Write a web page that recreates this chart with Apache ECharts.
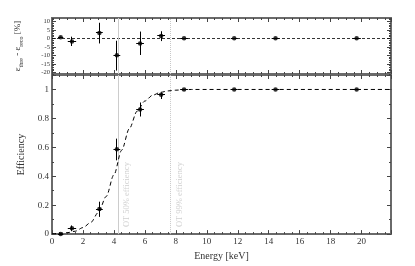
<!DOCTYPE html>
<html><head><meta charset="utf-8">
<script src="https://cdn.jsdelivr.net/npm/echarts@6/dist/echarts.min.js"></script>
<style>html,body{margin:0;padding:0;background:#fff}#c{width:415px;height:266px}</style>
</head><body><div id="c"></div>
<script>
// ---- data ----
const energy    = [0.56, 1.29, 3.06, 4.19, 5.69, 7.05, 8.53, 11.77, 14.44, 19.68];
const energyErr = [0.17, 0.27, 0.22, 0.22, 0.25, 0.25, 0.25, 0.22, 0.25, 0.27];
const eff       = [0.0, 0.04, 0.173, 0.587, 0.862, 0.963, 1.0, 1.0, 1.0, 1.0];
const effLo     = [0.0, 0.02, 0.119, 0.51, 0.813, 0.934, 1.0, 1.0, 1.0, 1.0];
const effHi     = [0.0, 0.06, 0.224, 0.66, 0.91, 0.978, 1.0, 1.0, 1.0, 1.0];
const resid     = [0.6, -1.8, 3.2, -10, -3, 1.4, 0, 0, 0, 0];
const residLo   = [0.2, -4.5, -3.0, -19, -9.8, -1.6, 0, 0, 0, 0];
const residHi   = [1.0, 1.0, 9.2, -1.4, 4.0, 4.2, 0, 0, 0, 0];
const fitX      = [0, 0.5, 1, 1.5, 2, 2.5, 3, 3.5, 4, 4.5, 5, 5.5, 6, 6.5, 7, 7.5, 8, 8.5, 9, 22];
const fitY      = [0.003, 0.005, 0.01, 0.02, 0.045, 0.08, 0.15, 0.26, 0.41, 0.58, 0.73, 0.85, 0.92, 0.96, 0.98, 0.99, 0.995, 0.998, 1.0, 1.0];
const otValues  = [4.28, 7.65];
const otLabels  = ['OT 50% efficiency', 'OT 99% efficiency'];
const otLabelY  = 0.0;
const yTopLabels  = [-20, -15, -10, -5, 0, 5, 10];
const yTopMinor   = [-21,-19,-18,-17,-16,-14,-13,-12,-11,-9,-8,-7,-6,-4,-3,-2,-1,1,2,3,4,6,7,8,9,11,12];

const FONT = '"Liberation Serif","Times New Roman",serif';
const AX = '#6a6a6a';
const xMax = 21.9;

const chart = echarts.init(document.getElementById('c'), null, {renderer: 'canvas'});

function xAx(grid, pos, showLabels, extra) {
  return Object.assign({
    type: 'value', gridIndex: grid, position: pos, min: 0, max: xMax, interval: 2,
    axisLine: {show: true, onZero: false, lineStyle: {color: AX, width: 2}},
    axisTick: {show: true, inside: true, length: 4, lineStyle: {color: '#444', width: 1}},
    minorTick: {show: true, splitNumber: 4, length: 2, lineStyle: {color: '#444', width: 1}},
    splitLine: {show: false}, minorSplitLine: {show: false},
    axisLabel: {show: showLabels, showMaxLabel: false, margin: 3, fontFamily: FONT, fontSize: 9, color: '#333'}
  }, extra || {});
}
function yTop(pos, values, len, showLabels, extra) {
  return Object.assign({
    type: 'value', gridIndex: 0, position: pos, min: -21, max: 12,
    axisLine: {show: true, onZero: false, lineStyle: {color: AX, width: 2}},
    axisTick: {show: true, inside: true, length: len, customValues: values, lineStyle: {color: '#444', width: 1}},
    splitLine: {show: false},
    axisLabel: {show: showLabels, customValues: yTopLabels, margin: 2, fontFamily: FONT, fontSize: 6.5, color: '#333'}
  }, extra || {});
}
function yBot(pos, showLabels, extra) {
  return Object.assign({
    type: 'value', gridIndex: 1, position: pos, min: 0, max: 1.1, interval: 0.2,
    axisLine: {show: true, onZero: false, lineStyle: {color: AX, width: 2}},
    axisTick: {show: true, inside: true, length: 4, lineStyle: {color: '#444', width: 1}},
    minorTick: {show: true, splitNumber: 2, length: 2, lineStyle: {color: '#444', width: 1}},
    splitLine: {show: false}, minorSplitLine: {show: false},
    axisLabel: {show: showLabels, showMaxLabel: false, margin: 3, fontFamily: FONT, fontSize: 9, color: '#333'}
  }, extra || {});
}

function crisp(v) { return Math.round(v - 0.5) + 0.5; }
function errRender(params, api) {
  const x = api.value(0), y = api.value(1), xe = api.value(2), lo = api.value(3), hi = api.value(4);
  const pl = api.coord([x - xe, y]), pr = api.coord([x + xe, y]);
  const pt = api.coord([x, hi]), pb = api.coord([x, lo]);
  const st = {stroke: '#000', lineWidth: 1};
  const cx = crisp(pt[0]), cy = crisp(pl[1]);
  return {type: 'group', children: [
    {type: 'line', shape: {x1: pl[0], y1: cy, x2: pr[0], y2: cy}, style: st},
    {type: 'line', shape: {x1: cx, y1: pt[1], x2: cx, y2: pb[1]}, style: st}
  ]};
}

const topErr = energy.map((e, i) => [e, resid[i], energyErr[i], residLo[i], residHi[i]]);
const botErr = energy.map((e, i) => [e, eff[i], energyErr[i], effLo[i], effHi[i]]);
const fitData = fitX.map((x, i) => [x, fitY[i]]);

const otLineStyles = [{type: 'solid', color: '#cccccc', width: 1}, {type: 'dotted', color: '#c8c8c8', width: 1}];

const option = {
  animation: false,
  backgroundColor: '#fff',
  grid: [
    {left: 52, right: 24, top: 18, height: 56},
    {left: 52, right: 24, top: 75, height: 167}
  ],
  xAxis: [
    xAx(0, 'bottom', false),
    xAx(0, 'top', false),
    xAx(1, 'bottom', true, {name: 'Energy [keV]', nameLocation: 'middle', nameGap: 11,
      nameTextStyle: {fontFamily: FONT, fontSize: 10, color: '#333', verticalAlign: 'top'}}),
    xAx(1, 'top', false)
  ],
  yAxis: [
    yTop('left', yTopLabels, 4, true, {
      name: '{e|ε}{s|thre}{n| - }{e|ε}{s|reco}{n| [%]}', nameLocation: 'middle', nameGap: 28, nameRotate: 90,
      nameTextStyle: {fontFamily: FONT, fontSize: 9, color: '#333',
        rich: {
          e: {fontFamily: FONT, fontSize: 9, color: '#333', lineHeight: 12, verticalAlign: 'middle'},
          n: {fontFamily: FONT, fontSize: 9, color: '#333', lineHeight: 12, verticalAlign: 'middle'},
          s: {fontFamily: FONT, fontSize: 6, color: '#333', lineHeight: 12, verticalAlign: 'bottom', padding: [4, 0, 0, 0]}
        }}
    }),
    yTop('left', yTopMinor, 2, false),
    yTop('right', yTopLabels, 4, false),
    yTop('right', yTopMinor, 2, false),
    yBot('left', true, {name: 'Efficiency', nameLocation: 'middle', nameGap: 25, nameRotate: 90,
      nameTextStyle: {fontFamily: FONT, fontSize: 10, color: '#333'}}),
    yBot('right', false)
  ],
  series: [
    // top panel: zero line and OT lines
    {type: 'line', xAxisIndex: 0, yAxisIndex: 0, data: [], silent: true, z: 1,
      markLine: {silent: true, symbol: ['none', 'none'], label: {show: false}, z: 1,
        data: [
          {yAxis: 0, lineStyle: {type: [3, 2], color: '#000', width: 0.8}},
          {xAxis: otValues[0], lineStyle: otLineStyles[0]},
          {xAxis: otValues[1], lineStyle: otLineStyles[1]}
        ]}},
    {type: 'custom', xAxisIndex: 0, yAxisIndex: 0, renderItem: errRender, data: topErr,
      encode: {x: 0, y: 1}, silent: true, z: 6},
    {type: 'scatter', xAxisIndex: 0, yAxisIndex: 0, data: energy.map((e, i) => [e, resid[i]]),
      symbol: 'circle', symbolSize: 4.5, itemStyle: {color: '#000'}, silent: true, z: 7},
    // bottom panel: fit curve with OT lines
    {type: 'line', xAxisIndex: 2, yAxisIndex: 4, data: fitData, smooth: 0.3, smoothMonotone: 'x',
      showSymbol: false, symbol: 'none', silent: true, z: 2,
      lineStyle: {color: '#000', width: 1, type: [4, 3]},
      markLine: {silent: true, symbol: ['none', 'none'], z: 1, label: {show: false},
        data: otValues.map((v, i) => ({xAxis: v, lineStyle: otLineStyles[i]}))}},
    // OT labels anchored at the OT energies
    {type: 'scatter', xAxisIndex: 2, yAxisIndex: 4, silent: true, z: 3, symbolSize: 0,
      data: otValues.map((v, i) => ({value: [v, otLabelY], name: otLabels[i]})),
      label: {show: true, formatter: p => p.name, rotate: 90, position: 'inside', distance: 0,
        align: 'left', verticalAlign: 'middle', offset: [7, 9],
        fontFamily: FONT, fontSize: 8.5, color: '#c4c4c4'}},
    {type: 'custom', xAxisIndex: 2, yAxisIndex: 4, renderItem: errRender, data: botErr,
      encode: {x: 0, y: 1}, silent: true, z: 6},
    {type: 'scatter', xAxisIndex: 2, yAxisIndex: 4, data: energy.map((e, i) => [e, eff[i]]),
      symbol: 'circle', symbolSize: 4.5, itemStyle: {color: '#000'}, silent: true, z: 7}
  ]
};
chart.setOption(option);
</script>
</body></html>
